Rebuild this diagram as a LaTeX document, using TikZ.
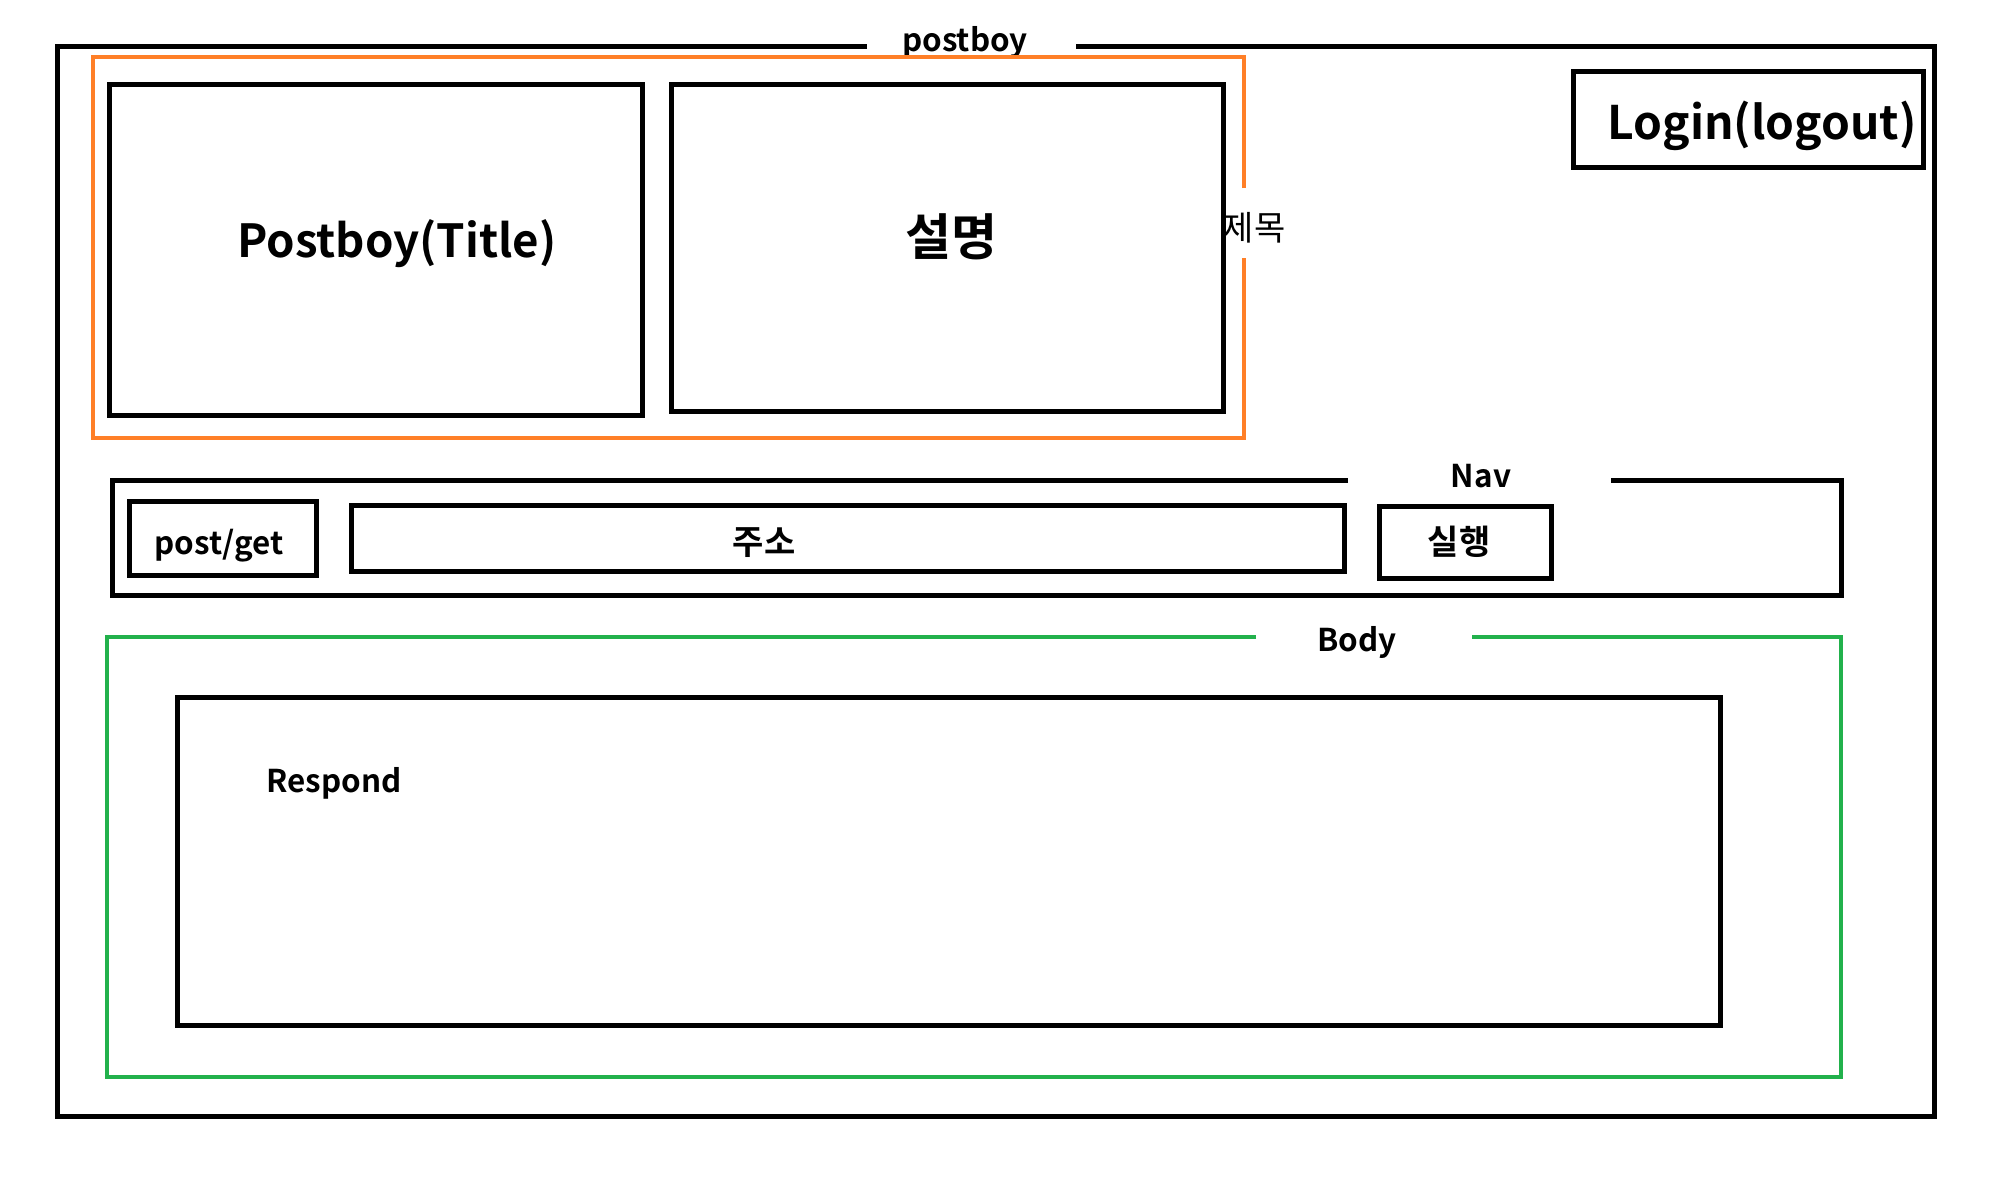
\documentclass[tikz,border=0pt]{standalone}
\usepackage{fontspec}
\setmainfont{Noto Sans CJK KR}[BoldFont={* Bold}]
\usetikzlibrary{fit}
\definecolor{paintorange}{HTML}{FF7F27}
\definecolor{paintgreen}{HTML}{22B14C}
\tikzset{
  blk/.style={draw=black, line width=2.5pt, inner sep=0pt},
  frame/.style={draw=black, line width=2.5pt, line join=miter},
  orangeframe/.style={draw=paintorange, line width=2pt, line join=miter},
  greenframe/.style={draw=paintgreen, line width=2pt, line join=miter},
  bigkr/.style={font=\bfseries\fontsize{25}{30}\selectfont, inner sep=0pt},
  biglat/.style={font=\bfseries\fontsize{22.8}{27}\selectfont, inner sep=0pt},
  loginlat/.style={font=\bfseries\fontsize{23.1}{28}\selectfont, inner sep=0pt},
  smallkr/.style={font=\bfseries\fontsize{17}{20}\selectfont, inner sep=0pt},
  smalllat/.style={font=\bfseries\fontsize{15.7}{19}\selectfont, inner sep=0pt},
  plain/.style={font=\fontsize{17}{20}\selectfont, inner sep=0pt}
}
\begin{document}
\begin{tikzpicture}[x=0.5pt, y=-0.5pt]
\useasboundingbox[fill=white] (0,0) rectangle (1990,1194);

% outer page frame with gap for "postboy"
\node[smalllat] (pb) at (965,42) {postboy};
\draw[frame] (867,46) -- (57,46) -- (57,1116) -- (1934,1116) -- (1934,46) -- (1076,46);

% header (orange) with gap for 제목
\node[plain] (hdr) at (1254,228) {제목};
\draw[orangeframe] (1244,188) -- (1244,57) -- (93,57) -- (93,438) -- (1244,438) -- (1244,258);

\node[blk, fit={(109,84) (642,415)}] (title) {};
\node[biglat] (titletext) at (397,244) {Postboy(Title)};
\node[blk, fit={(671,84) (1223,411)}] (desc) {};
\node[bigkr] (desctext) at (951,237) {설명};

\node[blk, fit={(1573,71) (1923,167)}] (login) {};
\node[loginlat, anchor=east] (logintext) at (1917,126) {Login(logout)};

% nav
\node[smalllat] (nav) at (1481,476) {Nav};
\draw[frame] (1348,480) -- (112,480) -- (112,595) -- (1841,595) -- (1841,480) -- (1611,480);
\node[blk, fit={(129,501) (316,575)}] (method) {};
\node[smalllat] (methodtext) at (219,546) {post/get};
\node[blk, fit={(351,505) (1344,571)}] (addr) {};
\node[smallkr] (addrtext) at (764,543) {주소};
\node[blk, fit={(1379,506) (1551,578)}] (run) {};
\node[smallkr] (runtext) at (1459,542) {실행};

% body
\node[smalllat] (body) at (1357,642) {Body};
\draw[greenframe] (1256,637) -- (107,637) -- (107,1077) -- (1841,1077) -- (1841,637) -- (1472,637);
\node[blk, fit={(177,697) (1720,1025)}] (respond) {};
\node[smalllat, anchor=west] (respondtext) at (266,783) {Respond};
\end{tikzpicture}
\end{document}
